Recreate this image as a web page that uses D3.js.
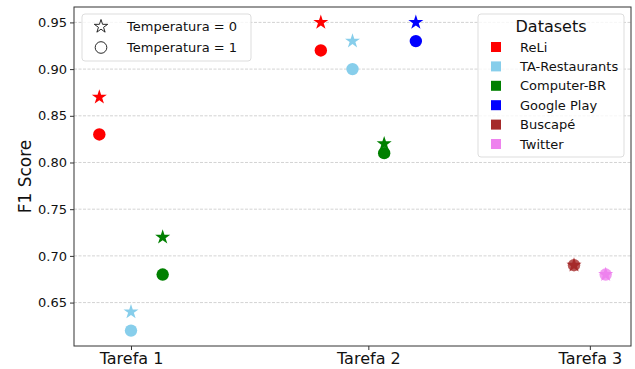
<!DOCTYPE html>
<html>
<head>
<meta charset="utf-8">
<script src="https://cdn.jsdelivr.net/npm/d3@7"></script>
<style>
  body { margin: 0; background: #fff; }
  svg { font-family: "DejaVu Sans", sans-serif; }
</style>
</head>
<body>
<div id="chart"></div>
<script>
// data
var tarefas = ["Tarefa 1", "Tarefa 2", "Tarefa 3"];
var datasets = ["ReLi", "TA-Restaurants", "Computer-BR", "Google Play", "Buscapé", "Twitter"];
var colors = ["red", "skyblue", "green", "blue", "brown", "violet"];

// one entry per point: task index, dataset, slot inside the task, F1 at temp 0 and temp 1
var pTask = [0, 0, 0, 1, 1, 1, 1, 2, 2];
var pDataset = ["ReLi", "TA-Restaurants", "Computer-BR", "ReLi", "TA-Restaurants", "Computer-BR", "Google Play", "Buscapé", "Twitter"];
var pSlot = [0, 1, 2, 0, 1, 2, 3, 1, 2];
var temp0 = [0.87, 0.64, 0.72, 0.95, 0.93, 0.82, 0.95, 0.69, 0.68];
var temp1 = [0.83, 0.62, 0.68, 0.92, 0.90, 0.81, 0.93, 0.69, 0.68];
var yTicks = [0.65, 0.70, 0.75, 0.80, 0.85, 0.90, 0.95];

var svgWidth = 635;
var svgHeight = 369;
var margin = {top: 7, right: 4, bottom: 23, left: 74};
var width = svgWidth - margin.left - margin.right;
var height = svgHeight - margin.top - margin.bottom;
var step = 0.143;

var points = pTask.map(function(t, i) {
    return {task: t, name: pDataset[i], x: t + pSlot[i] * step, t0: temp0[i], t1: temp1[i]};
});

// tick position = center of each task's points
var tickPos = tarefas.map(function(d, i) {
    var xs = points.filter(p => p.task == i).map(p => p.x);
    return (d3.min(xs) + d3.max(xs)) / 2;
});

var xMin = d3.min(points, d => d.x), xMax = d3.max(points, d => d.x);
var xPad = (xMax - xMin) * 0.05;
var yMin = d3.min(points, d => Math.min(d.t0, d.t1)), yMax = d3.max(points, d => Math.max(d.t0, d.t1));
var yPad = (yMax - yMin) * 0.05;

var x = d3.scaleLinear().domain([xMin - xPad, xMax + xPad]).range([0, width]);
var y = d3.scaleLinear().domain([yMin - yPad, yMax + yPad]).range([height, 0]);
var color = d3.scaleOrdinal().domain(datasets).range(colors);

var svg = d3.select("#chart").append("svg")
    .attr("width", svgWidth)
    .attr("height", svgHeight);

var g = svg.append("g")
    .attr("transform", `translate(${margin.left}, ${margin.top})`);

// grid
g.selectAll(".grid")
    .data(yTicks)
    .enter()
    .append("line")
    .attr("x1", 0).attr("x2", width)
    .attr("y1", d => y(d)).attr("y2", d => y(d))
    .attr("stroke", "#c8c8c8")
    .attr("stroke-width", 0.8)
    .attr("stroke-dasharray", "3,1.5");

// axes
var xAxis = g.append("g")
    .attr("transform", `translate(0, ${height})`)
    .call(d3.axisBottom(x).tickValues(tickPos).tickFormat((d, i) => tarefas[i]).tickSize(4).tickPadding(3));
xAxis.selectAll("text").attr("font-size", "16px").attr("fill", "#111").style("font-family", "DejaVu Sans");

var yAxis = g.append("g")
    .call(d3.axisLeft(y).tickValues(yTicks).tickFormat(d3.format(".2f")).tickSize(4).tickPadding(3));
yAxis.selectAll("text").attr("font-size", "13px").attr("fill", "#111").style("font-family", "DejaVu Sans");

svg.selectAll(".domain").remove();
svg.selectAll(".tick line").attr("stroke", "#333");

// frame
g.append("rect")
    .attr("width", width).attr("height", height)
    .attr("fill", "none")
    .attr("stroke", "#333")
    .attr("stroke-width", 1);

// y label
g.append("text")
    .attr("transform", "rotate(-90)")
    .attr("x", -height / 2)
    .attr("y", -margin.left + 31)
    .attr("text-anchor", "middle")
    .attr("font-size", "17px")
    .attr("fill", "#111")
    .text("F1 Score");

var star = d3.symbol().type(d3.symbolStar).size(70);

// circles (temp 1) then stars (temp 0)
g.selectAll(".c1")
    .data(points)
    .enter()
    .append("circle")
    .attr("cx", d => x(d.x))
    .attr("cy", d => y(d.t1))
    .attr("r", 6.2)
    .attr("fill", d => color(d.name))
    .attr("opacity", d => d.task == 2 ? 0.8 : 1);

g.selectAll(".s0")
    .data(points)
    .enter()
    .append("path")
    .attr("d", star)
    .attr("transform", d => `translate(${x(d.x)}, ${y(d.t0)})`)
    .attr("fill", d => color(d.name));

// legend: temperature
var leg1 = svg.append("g").attr("transform", "translate(82, 14)");
leg1.append("rect")
    .attr("width", 169).attr("height", 47).attr("rx", 3)
    .attr("fill", "white").attr("fill-opacity", 0.8)
    .attr("stroke", "#ddd");
leg1.append("path")
    .attr("d", d3.symbol().type(d3.symbolStar).size(55))
    .attr("transform", "translate(19, 12.5)")
    .attr("fill", "none").attr("stroke", "#111").attr("stroke-width", 0.9);
leg1.append("circle")
    .attr("cx", 19).attr("cy", 33.5).attr("r", 5.8)
    .attr("fill", "none").attr("stroke", "#111").attr("stroke-width", 0.9);
leg1.selectAll(".lt")
    .data(["Temperatura = 0", "Temperatura = 1"])
    .enter()
    .append("text")
    .attr("x", 45)
    .attr("y", (d, i) => 12.5 + i * 21)
    .attr("dy", "0.35em")
    .attr("font-size", "13px")
    .attr("fill", "#111")
    .text(d => d);

// legend: datasets
var leg2 = svg.append("g").attr("transform", "translate(478, 14)");
leg2.append("rect")
    .attr("width", 146).attr("height", 143).attr("rx", 3)
    .attr("fill", "white").attr("fill-opacity", 0.8)
    .attr("stroke", "#ddd");
leg2.append("text")
    .attr("x", 73).attr("y", 12)
    .attr("dy", "0.35em")
    .attr("text-anchor", "middle")
    .attr("font-size", "16px")
    .attr("fill", "#111")
    .text("Datasets");
var rows = leg2.selectAll(".row")
    .data(datasets)
    .enter()
    .append("g")
    .attr("transform", (d, i) => `translate(0, ${33 + i * 19.4})`);
rows.append("rect")
    .attr("x", 13).attr("y", -5)
    .attr("width", 10).attr("height", 10)
    .attr("fill", d => color(d));
rows.append("text")
    .attr("x", 42)
    .attr("dy", "0.35em")
    .attr("font-size", "13px")
    .attr("fill", "#111")
    .text(d => d);
</script>
</body>
</html>
